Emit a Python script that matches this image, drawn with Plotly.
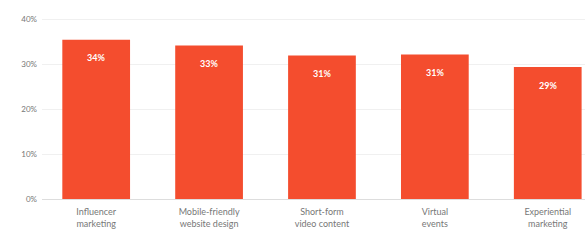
import plotly.graph_objects as go

categories = ["Influencer<br>marketing", "Mobile-friendly<br>website design",
              "Short-form<br>video content", "Virtual<br>events", "Experiential<br>marketing"]
values = [35.5, 34.2, 32.0, 32.2, 29.4]
labels = ["34%", "33%", "31%", "31%", "29%"]
y_ticks = [0, 10, 20, 30, 40]
y_tick_labels = ["0%", "10%", "20%", "30%", "40%"]

fig = go.Figure(go.Bar(
    x=categories, y=values, hoverinfo="skip",
    marker=dict(color="#f44d2e", line=dict(width=0)),
))

for c, v, t in zip(categories, values, labels):
    fig.add_annotation(x=c, y=v, text="<b>" + t + "</b>", showarrow=False,
                       yanchor="middle", yshift=-18,
                       font=dict(color="white", size=9, family="Lato"))

fig.update_layout(
    width=585, height=243,
    margin=dict(l=42, r=0, t=15, b=44),
    paper_bgcolor="white", plot_bgcolor="white",
    bargap=0.40, showlegend=False,
    font=dict(family="Lato", color="#777777", size=8),
    xaxis=dict(range=[-0.48, 4.33], showgrid=False, showline=False, automargin=False,
               tickfont=dict(size=9, color="#777777"), ticks="", ticklabelstandoff=6),
    yaxis=dict(range=[0, 41], tickvals=y_ticks, ticktext=y_tick_labels, automargin=False,
               showgrid=True, gridcolor="#f0f0f0", gridwidth=1,
               zeroline=True, zerolinecolor="#dddddd", zerolinewidth=1,
               tickfont=dict(size=8, color="#777777"), ticks="", ticklabelstandoff=4),
)

fig.write_html("out.html", config={"displayModeBar": False},
               post_script="document.body.style.margin='0';")
